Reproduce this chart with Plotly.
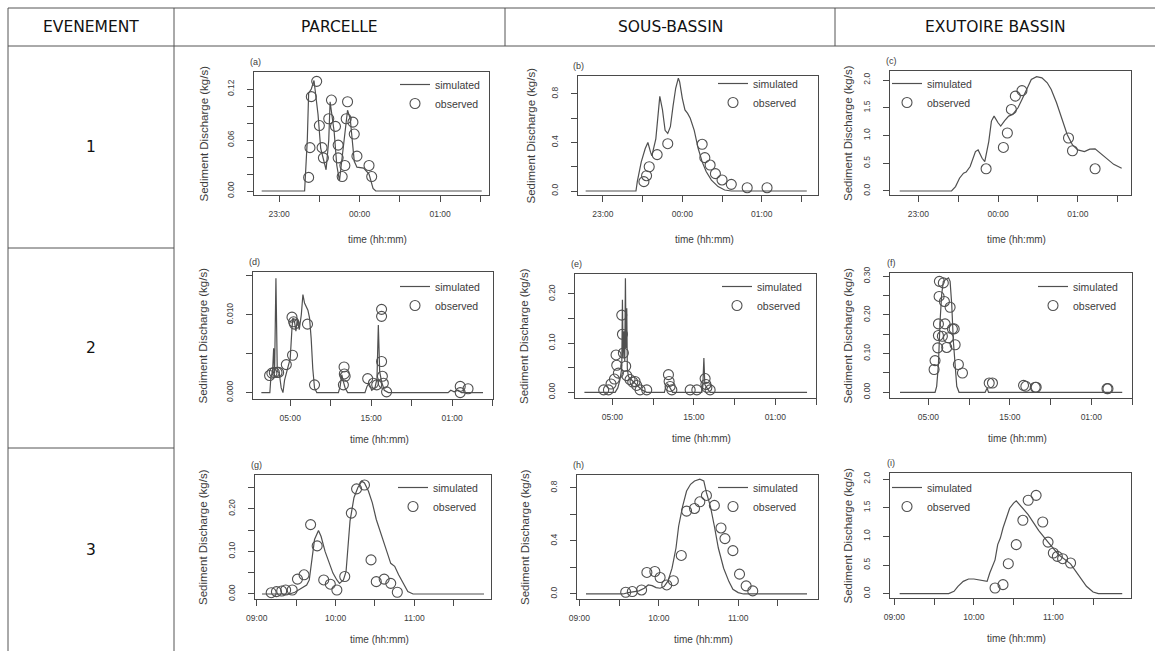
import plotly.graph_objects as go

W, H = 1155, 651

# ---------------- texts ----------------
HEADERS = ["EVENEMENT", "PARCELLE", "SOUS-BASSIN", "EXUTOIRE BASSIN"]
EVENTS = ["1", "2", "3"]
PANEL_LABELS = ["(a)", "(b)", "(c)", "(d)", "(e)", "(f)", "(g)", "(h)", "(i)"]
SERIES = ["simulated", "observed"]
X_TITLE = "time (hh:mm)"
Y_TITLE = "Sediment Discharge (kg/s)"

# ---------------- x ticks per event ----------------
EV1_XTICKS = ["23:00", "23:30", "00:00", "00:30", "01:00", "01:30"]
EV1_XLABELS = ["23:00", "", "00:00", "", "01:00", ""]
EV2_XTICKS = ["05:00", "10:00", "15:00", "20:00", "01:00", "06:00"]
EV2_XLABELS = ["05:00", "", "15:00", "", "01:00", ""]
EV3_XTICKS = ["09:00", "09:30", "10:00", "10:30", "11:00", "11:30"]
EV3_XLABELS = ["09:00", "", "10:00", "", "11:00", ""]

# ---------------- y ticks per panel ----------------
A_YTICKS = [0, 0.02, 0.04, 0.06, 0.08, 0.10, 0.12]
A_YLABELS = ["0.00", "", "", "0.06", "", "", "0.12"]
B_YTICKS = [0, 0.2, 0.4, 0.6, 0.8]
B_YLABELS = ["0.0", "", "0.4", "", "0.8"]
C_YTICKS = [0, 0.5, 1.0, 1.5, 2.0]
C_YLABELS = ["0.0", "0.5", "1.0", "1.5", "2.0"]
D_YTICKS = [0, 0.005, 0.010, 0.015]
D_YLABELS = ["0.000", "", "0.010", ""]
E_YTICKS = [0, 0.05, 0.10, 0.15, 0.20]
E_YLABELS = ["0.00", "", "0.10", "", "0.20"]
F_YTICKS = [0, 0.05, 0.10, 0.15, 0.20, 0.25, 0.30]
F_YLABELS = ["0.00", "", "0.10", "", "0.20", "", "0.30"]
G_YTICKS = [0, 0.05, 0.10, 0.15, 0.20, 0.25]
G_YLABELS = ["0.00", "", "0.10", "", "0.20", ""]
H_YTICKS = [0, 0.2, 0.4, 0.6, 0.8]
H_YLABELS = ["0.0", "", "0.4", "", "0.8"]
I_YTICKS = [0, 0.5, 1.0, 1.5, 2.0]
I_YLABELS = ["0.0", "0.5", "1.0", "1.5", "2.0"]

# ---------------- data (time hh:mm, sediment discharge kg/s) ----------------
# (a) event 1, parcelle
A_SIM_T = ["22:47", "23:19", "23:21", "23:22", "23:24", "23:26", "23:29", "23:31", "23:35", "23:37",
           "23:38", "23:41", "23:43", "23:45", "23:47", "23:49", "23:51", "23:53", "23:56", "23:58",
           "00:03", "00:07", "00:10", "00:12", "01:31"]
A_SIM_Q = [0, 0, 0.06, 0.115, 0.12, 0.13, 0.09, 0.05, 0.025, 0.06,
           0.105, 0.07, 0.03, 0.012, 0.04, 0.07, 0.095, 0.085, 0.035, 0.028,
           0.027, 0.02, 0.003, 0, 0]
A_OBS_T = ["23:22", "23:23", "23:24", "23:28", "23:30", "23:32", "23:33", "23:37", "23:39", "23:42",
           "23:44", "23:44", "23:47", "23:49", "23:50", "23:51", "23:55", "23:56", "23:58", "00:07", "00:09"]
A_OBS_Q = [0.016, 0.051, 0.111, 0.129, 0.077, 0.051, 0.039, 0.085, 0.107, 0.076,
           0.054, 0.039, 0.017, 0.030, 0.085, 0.105, 0.081, 0.067, 0.041, 0.030, 0.017]

# (b) event 1, sous-bassin
B_SIM_T = ["22:47", "23:25", "23:26", "23:29", "23:32", "23:34", "23:36", "23:37", "23:40", "23:42",
           "23:43", "23:45", "23:47", "23:49", "23:51", "23:53", "23:55", "23:57", "23:58", "00:00",
           "00:02", "00:04", "00:06", "00:09", "00:12", "00:15", "00:18", "00:22", "00:27", "00:32",
           "00:37", "01:34"]
B_SIM_Q = [0, 0, 0.077, 0.24, 0.35, 0.40, 0.32, 0.29, 0.43, 0.70,
           0.78, 0.67, 0.50, 0.475, 0.53, 0.70, 0.847, 0.93, 0.90, 0.764,
           0.668, 0.64, 0.60, 0.50, 0.35, 0.24, 0.16, 0.09, 0.036, 0.008,
           0, 0]
B_OBS_T = ["23:31", "23:33", "23:35", "23:41", "23:49", "00:15", "00:17", "00:21", "00:25", "00:30",
           "00:37", "00:49", "01:04"]
B_OBS_Q = [0.077, 0.126, 0.20, 0.30, 0.39, 0.385, 0.275, 0.214, 0.143, 0.091,
           0.055, 0.027, 0.027]

# (c) event 1, exutoire bassin
C_SIM_T = ["22:46", "23:25", "23:28", "23:31", "23:34", "23:36", "23:39", "23:43", "23:45", "23:48",
           "23:50", "23:53", "23:55", "23:57", "00:00", "00:02", "00:05", "00:08", "00:11", "00:15",
           "00:18", "00:22", "00:25", "00:29", "00:33", "00:37", "00:40", "00:44", "00:48", "00:52",
           "00:56", "01:00", "01:05", "01:09", "01:13", "01:17", "01:22", "01:27", "01:33"]
C_SIM_Q = [0, 0, 0.08, 0.23, 0.32, 0.34, 0.44, 0.71, 0.74, 0.59,
           0.53, 0.89, 1.26, 1.35, 1.23, 1.17, 1.27, 1.35, 1.38, 1.50,
           1.65, 1.86, 2.01, 2.06, 2.04, 1.95, 1.83, 1.59, 1.29, 1.02,
           0.83, 0.74, 0.71, 0.755, 0.76, 0.68, 0.57, 0.48, 0.41]
C_OBS_T = ["23:51", "00:04", "00:07", "00:10", "00:13", "00:18", "00:53", "00:56", "01:13"]
C_OBS_Q = [0.40, 0.785, 1.045, 1.47, 1.71, 1.81, 0.955, 0.725, 0.40]

# (d) event 2, parcelle
D_SIM_T = ["01:26", "02:29", "02:37", "02:49", "02:57", "03:04", "03:14", "03:24", "03:38", "03:53",
           "04:06", "04:18", "04:33", "04:47", "05:00", "05:13", "05:20", "05:32", "05:42", "05:52",
           "06:07", "06:22", "06:34", "06:46", "06:58", "07:11", "07:23", "07:35", "07:47", "08:00",
           "08:17", "10:57", "11:10", "11:22", "11:34", "11:47", "12:06", "14:14", "14:29", "14:44",
           "15:04", "15:28", "15:43", "15:53", "16:03", "16:17", "16:37", "17:07", "00:30", "00:50",
           "01:15", "01:44", "02:09", "04:49"]
D_SIM_Q = [0, 0, 0.0021, 0.0026, 0.0057, 0.0025, 0.0147, 0.0027, 0.0026, 0.0006,
           0, 0.0016, 0.0026, 0.0036, 0.0044, 0.0083, 0.0096, 0.0091, 0.0079, 0.0094,
           0.0081, 0.0100, 0.0126, 0.0115, 0.0111, 0.0106, 0.0096, 0.0070, 0.0031, 0.0006,
           0, 0, 0.0008, 0.0023, 0.0014, 0.0006, 0, 0, 0.0008, 0.0012,
           0.0003, 0.0006, 0.0018, 0.0087, 0.0027, 0.0014, 0.0003, 0, 0, 0.0003,
           0.0001, 0.0003, 0, 0]
D_OBS_T = ["02:27", "02:44", "03:02", "03:22", "03:34", "04:31", "05:13", "05:17", "05:25", "05:32",
           "07:08", "08:00", "11:34", "11:39", "11:41", "11:47", "14:34", "15:16", "15:41", "16:17",
           "16:17", "16:17", "16:23", "16:30", "16:54", "02:00", "02:00", "02:58"]
D_OBS_Q = [0.0022, 0.0025, 0.0026, 0.0026, 0.0026, 0.0036, 0.0097, 0.0048, 0.0091, 0.0088,
           0.0088, 0.0010, 0.0010, 0.0033, 0.0024, 0.0021, 0.0018, 0.0012, 0.0010, 0.0107,
           0.0098, 0.0040, 0.0021, 0.0012, 0.0001, 0.0008, 0.0000, 0.0005]

# (e) event 2, sous-bassin
E_SIM_T = ["01:34", "05:20", "05:40", "05:56", "06:09", "06:14", "06:19", "06:26", "06:31", "06:36",
           "06:41", "06:46", "06:50", "06:58", "07:18", "07:42", "08:07", "08:37", "09:13", "11:23",
           "11:34", "11:48", "12:05", "12:23", "15:59", "16:06", "16:14", "16:21", "16:36", "17:00",
           "04:54"]
E_SIM_Q = [0, 0, 0.009, 0.026, 0.049, 0.188, 0.070, 0.124, 0.063, 0.232,
           0.090, 0.171, 0.049, 0.032, 0.026, 0.019, 0.012, 0.005, 0, 0,
           0.012, 0.017, 0.009, 0, 0, 0.012, 0.07, 0.016, 0.009, 0,
           0]
E_OBS_T = ["03:56", "04:31", "04:50", "05:15", "05:27", "05:32", "05:44", "06:09", "06:14", "06:21",
           "06:38", "06:46", "07:10", "07:30", "07:47", "07:59", "08:24", "09:13", "11:53", "11:58",
           "12:05", "12:18", "14:33", "15:22", "16:23", "16:29", "16:36", "17:00"]
E_OBS_Q = [0.005, 0.005, 0.017, 0.027, 0.076, 0.055, 0.039, 0.157, 0.118, 0.080,
           0.053, 0.034, 0.026, 0.021, 0.022, 0.014, 0.005, 0.005, 0.036, 0.022,
           0.012, 0.005, 0.005, 0.005, 0.028, 0.016, 0.010, 0.005]

# (f) event 2, exutoire bassin
F_SIM_T = ["01:31", "05:49", "06:01", "06:14", "06:26", "06:38", "06:50", "07:10", "07:28", "07:40",
           "07:52", "08:04", "08:17", "08:29", "08:46", "11:58", "12:13", "12:23", "04:48"]
F_SIM_Q = [0, 0, 0.0155, 0.072, 0.184, 0.253, 0.287, 0.291, 0.296, 0.287,
           0.227, 0.132, 0.063, 0.0155, 0, 0, 0.011, 0, 0]
F_OBS_T = ["05:42", "05:49", "06:09", "06:14", "06:14", "06:19", "06:21", "06:43", "06:50", "06:58",
           "07:03", "07:15", "07:28", "07:40", "07:57", "08:10", "08:17", "08:41", "09:11", "12:28",
           "12:52", "16:41", "16:58", "18:07", "18:14", "02:56", "03:03"]
F_OBS_Q = [0.059, 0.082, 0.115, 0.147, 0.177, 0.248, 0.287, 0.145, 0.283, 0.235,
           0.177, 0.116, 0.141, 0.220, 0.164, 0.164, 0.123, 0.072, 0.050, 0.024,
           0.024, 0.018, 0.0155, 0.013, 0.013, 0.0095, 0.0095]

# (g) event 3, parcelle
G_SIM_T = ["09:04", "09:25", "09:29", "09:32", "09:35", "09:38", "09:40", "09:42", "09:44", "09:47",
           "09:49", "09:52", "09:55", "09:58", "10:01", "10:03", "10:06", "10:08", "10:09", "10:11",
           "10:14", "10:17", "10:20", "10:22", "10:25", "10:28", "10:31", "10:35", "10:39", "10:42",
           "10:45", "10:48", "10:52", "10:55", "10:59", "11:53"]
G_SIM_Q = [0, 0, 0.004, 0.0094, 0.015, 0.021, 0.033, 0.084, 0.128, 0.149,
           0.135, 0.10, 0.072, 0.049, 0.033, 0.025, 0.033, 0.053, 0.092, 0.171,
           0.226, 0.25, 0.265, 0.261, 0.242, 0.214, 0.175, 0.135, 0.10, 0.072,
           0.065, 0.045, 0.021, 0.0055, 0, 0]
G_OBS_T = ["09:11", "09:15", "09:19", "09:22", "09:27", "09:31", "09:36", "09:41", "09:46", "09:51",
           "09:56", "10:01", "10:07", "10:12", "10:16", "10:22", "10:27", "10:31", "10:37", "10:42", "10:47"]
G_OBS_Q = [0.003, 0.0055, 0.007, 0.0094, 0.0094, 0.035, 0.045, 0.163, 0.113, 0.033,
           0.023, 0.0094, 0.041, 0.19, 0.247, 0.256, 0.080, 0.029, 0.035, 0.025, 0.004]

# (h) event 3, sous-bassin
H_SIM_T = ["09:05", "09:33", "09:37", "09:41", "09:45", "09:49", "09:52", "09:55", "09:58", "10:01",
           "10:04", "10:07", "10:10", "10:13", "10:15", "10:18", "10:21", "10:24", "10:27", "10:31",
           "10:34", "10:36", "10:39", "10:42", "10:45", "10:49", "10:53", "10:56", "11:00", "11:04", "11:52"]
H_SIM_Q = [0, 0, 0.010, 0.018, 0.023, 0.043, 0.068, 0.063, 0.048, 0.043,
           0.056, 0.098, 0.194, 0.346, 0.51, 0.66, 0.775, 0.826, 0.851, 0.864,
           0.851, 0.763, 0.66, 0.51, 0.346, 0.194, 0.093, 0.035, 0.010, 0, 0]
H_OBS_T = ["09:35", "09:40", "09:47", "09:51", "09:57", "10:01", "10:06", "10:11", "10:17", "10:21",
           "10:27", "10:31", "10:36", "10:42", "10:47", "10:50", "10:56", "11:01", "11:06", "11:11"]
H_OBS_Q = [0.013, 0.018, 0.030, 0.162, 0.169, 0.124, 0.068, 0.10, 0.29, 0.624,
           0.644, 0.694, 0.742, 0.667, 0.497, 0.417, 0.326, 0.149, 0.061, 0.023]

# (i) event 3, exutoire bassin
I_SIM_T = ["09:04", "09:41", "09:45", "09:48", "09:52", "09:56", "10:00", "10:03", "10:07", "10:10",
           "10:12", "10:14", "10:16", "10:18", "10:20", "10:22", "10:25", "10:27", "10:30", "10:32",
           "10:41", "10:49", "10:56", "11:04", "11:13", "11:19", "11:25", "11:30", "11:34", "11:52"]
I_SIM_Q = [0, 0, 0.04, 0.128, 0.215, 0.256, 0.256, 0.244, 0.227, 0.215,
           0.36, 0.477, 0.59, 0.855, 0.97, 1.145, 1.35, 1.49, 1.58, 1.62,
           1.38, 1.10, 0.90, 0.68, 0.52, 0.33, 0.128, 0.03, 0, 0]
I_OBS_T = ["10:16", "10:22", "10:26", "10:32", "10:37", "10:41", "10:47", "10:52", "10:56", "11:00",
           "11:03", "11:07", "11:13"]
I_OBS_Q = [0.099, 0.157, 0.523, 0.855, 1.28, 1.63, 1.715, 1.25, 0.90, 0.709,
           0.651, 0.61, 0.535]


def to_hours(times):
    """hh:mm strings (chronological) -> hours, rolling over midnight."""
    out, day, prev = [], 0.0, None
    for s in times:
        h, m = s.split(":")
        v = int(h) + int(m) / 60.0
        if prev is not None and v < prev - 1e-9:
            day += 24.0
        prev = v
        out.append(v + day)
    return out


XT = [(EV1_XTICKS, EV1_XLABELS), (EV2_XTICKS, EV2_XLABELS), (EV3_XTICKS, EV3_XLABELS)]
XTITLE_OFF = [45, 40, 40]   # px below the box, per event row

PANELS = [
    # data, y ticks, layout: box (l, r, t, b) px, x range (h), y range, legend (left, top) px,
    # y-title offset left of box (px)
    dict(st=A_SIM_T, sq=A_SIM_Q, ot=A_OBS_T, oq=A_OBS_Q, yt=A_YTICKS, yl=A_YLABELS, ev=0,
         box=(254, 489, 72, 195), xr=(22.688, 25.607), yr=(-0.0047, 0.140), leg=(395, 70), yto=50),
    dict(st=B_SIM_T, sq=B_SIM_Q, ot=B_OBS_T, oq=B_OBS_Q, yt=B_YTICKS, yl=B_YLABELS, ev=0,
         box=(578, 818, 76, 195), xr=(22.687, 25.708), yr=(-0.033, 0.948), leg=(713, 69), yto=48),
    dict(st=C_SIM_T, sq=C_SIM_Q, ot=C_OBS_T, oq=C_OBS_Q, yt=C_YTICKS, yl=C_YLABELS, ev=0,
         box=(890, 1131, 71, 195), xr=(22.645, 25.667), yr=(-0.0725, 2.163), leg=(887, 69), yto=42),
    dict(st=D_SIM_T, sq=D_SIM_Q, ot=D_OBS_T, oq=D_OBS_Q, yt=D_YTICKS, yl=D_YLABELS, ev=1,
         box=(253, 493, 272, 399), xr=(0.40, 30.05), yr=(-0.00082, 0.0155), leg=(395, 272), yto=51),
    dict(st=E_SIM_T, sq=E_SIM_Q, ot=E_OBS_T, oq=E_OBS_Q, yt=E_YTICKS, yl=E_YLABELS, ev=1,
         box=(575, 816, 274, 398), xr=(0.41, 30.0), yr=(-0.0115, 0.2405), leg=(717, 272), yto=51),
    dict(st=F_SIM_T, sq=F_SIM_Q, ot=F_OBS_T, oq=F_OBS_Q, yt=F_YTICKS, yl=F_YLABELS, ev=1,
         box=(890, 1132, 273, 398), xr=(0.287, 30.0), yr=(-0.0147, 0.3086), leg=(1033, 272), yto=43),
    dict(st=G_SIM_T, sq=G_SIM_Q, ot=G_OBS_T, oq=G_OBS_Q, yt=G_YTICKS, yl=G_YLABELS, ev=2,
         box=(255, 491, 475, 599), xr=(8.978, 11.972), yr=(-0.0118, 0.2795), leg=(393, 473), yto=52),
    dict(st=H_SIM_T, sq=H_SIM_Q, ot=H_OBS_T, oq=H_OBS_Q, yt=H_YTICKS, yl=H_YLABELS, ev=2,
         box=(577, 818, 475, 599), xr=(8.970, 12.005), yr=(-0.038, 0.896), leg=(713, 473), yto=52),
    dict(st=I_SIM_T, sq=I_SIM_Q, ot=I_OBS_T, oq=I_OBS_Q, yt=I_YTICKS, yl=I_YLABELS, ev=2,
         box=(890, 1131, 473, 598), xr=(8.945, 11.977), yr=(-0.0756, 2.105), leg=(887, 473), yto=43),
]

FONT = "Liberation Sans, Arial, sans-serif"
INK = "#3c3c3c"
LINE = "#4a4a4a"

fig = go.Figure()
layout = dict(
    template="none",
    width=W, height=H, autosize=False,
    margin=dict(l=0, r=0, t=0, b=0, pad=0, autoexpand=False),
    paper_bgcolor="white", plot_bgcolor="white",
    showlegend=True,
    font=dict(family=FONT, color=INK),
)
annotations = []
shapes = []


def px(x):
    return x / W


def py(y):
    return 1 - y / H


for i, p in enumerate(PANELS):
    n = i + 1
    sfx = "" if n == 1 else str(n)
    leg = "legend" if n == 1 else f"legend{n}"
    assert len(p["st"]) == len(p["sq"]) and len(p["ot"]) == len(p["oq"])
    fig.add_trace(go.Scatter(
        x=to_hours(p["st"]), y=p["sq"], mode="lines", name=SERIES[0],
        line=dict(color="#505050", width=1.2), xaxis=f"x{sfx}", yaxis=f"y{sfx}",
        legend=leg, hoverinfo="skip"))
    fig.add_trace(go.Scatter(
        x=to_hours(p["ot"]), y=p["oq"], mode="markers", name=SERIES[1],
        marker=dict(symbol="circle-open", size=10, color="#505050", line=dict(width=1.1)),
        xaxis=f"x{sfx}", yaxis=f"y{sfx}", legend=leg, hoverinfo="skip"))

    l, r, t, b = p["box"]
    xt, xl = XT[p["ev"]]
    layout[f"xaxis{sfx}"] = dict(
        domain=[px(l), px(r)], anchor=f"y{sfx}", range=list(p["xr"]), automargin=False,
        tickmode="array", tickvals=to_hours(xt), ticktext=xl,
        ticks="outside", ticklen=6, tickwidth=1, tickcolor=LINE,
        showline=True, mirror=True, linecolor=LINE, linewidth=1,
        showgrid=False, zeroline=False, ticklabelstandoff=5,
        tickfont=dict(family=FONT, size=8.5, color=INK), fixedrange=True)
    layout[f"yaxis{sfx}"] = dict(
        domain=[py(b), py(t)], anchor=f"x{sfx}", range=list(p["yr"]), automargin=False,
        tickmode="array", tickvals=p["yt"], ticktext=p["yl"], tickangle=-90,
        ticks="outside", ticklen=6, tickwidth=1, tickcolor=LINE,
        showline=True, mirror=True, linecolor=LINE, linewidth=1,
        showgrid=False, zeroline=False, ticklabelstandoff=10,
        tickfont=dict(family=FONT, size=8.5, color=INK), fixedrange=True)
    lx, ly = p["leg"]
    layout[leg] = dict(
        x=px(lx), y=py(ly), xanchor="left", yanchor="top",
        bgcolor="rgba(0,0,0,0)", borderwidth=0, itemwidth=30,
        tracegroupgap=0, font=dict(family=FONT, size=10.5, color=INK))

    # panel label, axis titles
    annotations.append(dict(text=PANEL_LABELS[i], xref="paper", yref="paper",
                            x=px(l + 1), y=py(t - 10), xanchor="center", yanchor="middle",
                            showarrow=False, font=dict(family=FONT, size=9, color=INK)))
    annotations.append(dict(text=X_TITLE, xref="paper", yref="paper",
                            x=px((l + r) / 2 + 6), y=py(b + XTITLE_OFF[p["ev"]]),
                            xanchor="center", yanchor="middle",
                            showarrow=False, font=dict(family=FONT, size=10, color=INK)))
    annotations.append(dict(text=Y_TITLE, xref="paper", yref="paper", textangle=-90,
                            x=px(l - p["yto"]), y=py((t + b) / 2), xanchor="center", yanchor="middle",
                            showarrow=False, font=dict(family=FONT, size=11.5, color=INK)))

# ---------------- table frame ----------------
TBL_L, TBL_R, TBL_T, TBL_HB, TBL_B = 8, 1155, 8, 46, 651
COL_X = [8, 174, 505, 835, 1155]
ROW_Y = [46, 248, 448, 651]
TCOL = "#555555"


def hline(x0, x1, y):
    shapes.append(dict(type="line", xref="paper", yref="paper", x0=px(x0), x1=px(x1),
                       y0=py(y), y1=py(y), line=dict(color=TCOL, width=1)))


def vline(x, y0, y1):
    shapes.append(dict(type="line", xref="paper", yref="paper", x0=px(x), x1=px(x),
                       y0=py(y0), y1=py(y1), line=dict(color=TCOL, width=1)))


hline(TBL_L, TBL_R, TBL_T)
hline(TBL_L, TBL_R, TBL_HB)
vline(TBL_L, TBL_T, TBL_B)
vline(COL_X[1], TBL_T, TBL_B)
vline(COL_X[2], TBL_T, TBL_HB)
vline(COL_X[3], TBL_T, TBL_HB)
hline(COL_X[0], COL_X[1], ROW_Y[1])
hline(COL_X[0], COL_X[1], ROW_Y[2])

HFONT = dict(family="DejaVu Sans, sans-serif", size=15.5, color="#111111")
for k, txt in enumerate(HEADERS):
    annotations.append(dict(text=txt, xref="paper", yref="paper",
                            x=px((COL_X[k] + COL_X[k + 1]) / 2), y=py((TBL_T + TBL_HB) / 2),
                            xanchor="center", yanchor="middle", showarrow=False, font=HFONT))
for k, txt in enumerate(EVENTS):
    annotations.append(dict(text=txt, xref="paper", yref="paper",
                            x=px((COL_X[0] + COL_X[1]) / 2), y=py((ROW_Y[k] + ROW_Y[k + 1]) / 2),
                            xanchor="center", yanchor="middle", showarrow=False, font=HFONT))

layout["annotations"] = annotations
layout["shapes"] = shapes
fig.update_layout(**layout)
fig.write_html("out.html", config={"displayModeBar": False, "responsive": False},
               post_script="document.body.style.margin='0px';document.body.style.overflow='hidden';")
